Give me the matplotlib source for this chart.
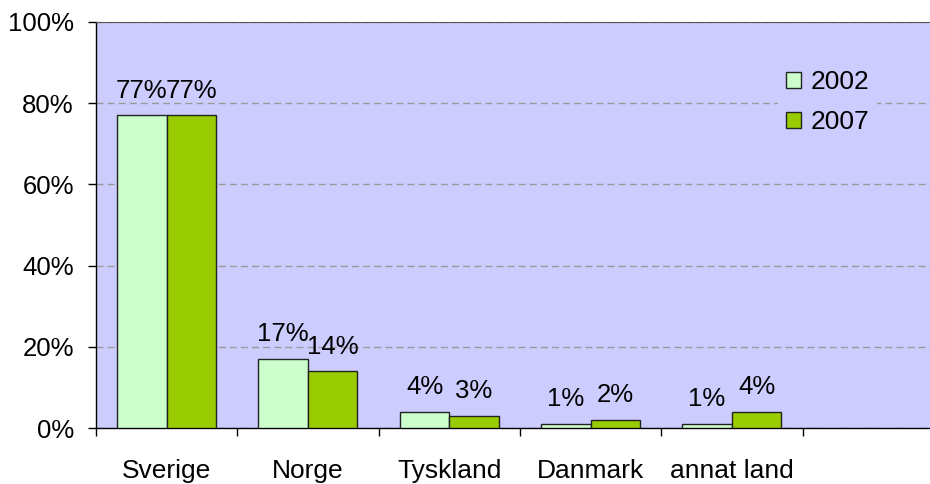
import matplotlib.pyplot as plt
import numpy as np

# 資料
categories = ['Sverige', 'Norge', 'Tyskland', 'Danmark', 'annat land']
years = ['2002', '2007']
values_2002 = [77, 17, 4, 1, 1]
values_2007 = [77, 14, 3, 2, 4]
yticks = [0, 20, 40, 60, 80, 100]

plt.rcParams['font.family'] = ['Liberation Sans', 'DejaVu Sans']

fig = plt.figure(figsize=(9.3, 4.84), dpi=100)
ax = fig.add_axes([96 / 930, 56 / 484, 1 - 96 / 930, 406 / 484])
ax.set_facecolor('#CCCCFF')

x = np.arange(len(categories)) + 0.5
w = 0.35
b1 = ax.bar(x - w / 2, values_2002, w, color='#CCFFCC', edgecolor='#222222', linewidth=1, label=years[0], zorder=3)
b2 = ax.bar(x + w / 2, values_2007, w, color='#99CC00', edgecolor='#222222', linewidth=1, label=years[1], zorder=3)

# 數值標籤
for bars, vals in [(b1, values_2002), (b2, values_2007)]:
    for rect, v in zip(bars, vals):
        ax.annotate(f'{v}%', (rect.get_x() + rect.get_width() / 2, v),
                    xytext=(0, 9), textcoords='offset points',
                    ha='center', va='bottom', fontsize=18.5, zorder=4)

ax.set_xlim(0, 834 / 141.3)
ax.set_ylim(0, 100)

ax.set_yticks(yticks)
ax.set_yticklabels([f'{t}%' for t in yticks], fontsize=18.5)
ax.tick_params(axis='y', length=6, width=1, pad=10, direction='out')

ax.set_xticks(x)
ax.set_xticklabels(categories, fontsize=19)
ax.set_xticks(np.arange(0, 6), minor=True)
ax.tick_params(axis='x', which='major', length=0, pad=22)
ax.tick_params(axis='x', which='minor', length=6, width=1, direction='out')

ax.grid(axis='y', color='#999999', linestyle=(0, (5, 3)), linewidth=1, zorder=1)
ax.set_axisbelow(True)

for s in ['left', 'bottom']:
    ax.spines[s].set_color('black')
    ax.spines[s].set_linewidth(1)
ax.spines['top'].set_color('#555555')
ax.spines['top'].set_linewidth(0.8)
ax.spines['right'].set_visible(False)

leg = ax.legend(loc='upper left', bbox_to_anchor=((765 - 96) / 834, (428 - 49) / 406), fontsize=19,
                frameon=True, facecolor='#CCCCFF', edgecolor='none', framealpha=1,
                handlelength=0.58, handleheight=0.58, handletextpad=0.35,
                labelspacing=0.62, borderpad=0.3, fancybox=False)
leg.set_zorder(5)

fig.savefig('out.png', dpi=100)
